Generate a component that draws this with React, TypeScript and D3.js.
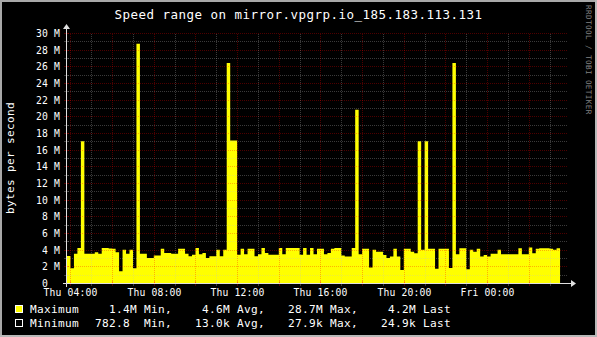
import React from "react";
import * as d3 from "d3";

const TITLE = "Speed range on mirror.vpgrp.io_185.183.113.131";
const Y_LABEL = "bytes per second";
const WATERMARK = "RRDTOOL / TOBI OETIKER";
const START_TIME = "2024-01-04T03:50:00"; // a Thursday
const STEP_MINUTES = 10;

// Maximum speed, in M bytes/s, one value per 10-minute step
const MAXIMUM = [
  3.25, 1.77, 3.5, 4.2, 17.0, 3.5, 3.5, 3.5, 3.7, 3.5,
  4.2, 4.2, 4.15, 4.1, 3.7, 1.4, 4.0, 3.5, 4.0, 1.77,
  28.7, 3.5, 3.5, 3.0, 3.0, 3.3, 3.3, 4.1, 3.6, 3.6,
  3.5, 3.5, 4.1, 4.1, 3.5, 3.2, 3.4, 4.2, 3.45, 3.6,
  3.0, 3.2, 3.2, 4.0, 3.2, 4.0, 26.4, 17.1, 17.1, 3.4,
  4.1, 3.45, 4.1, 4.1, 3.2, 3.45, 4.2, 3.6, 3.4, 3.4,
  3.4, 4.2, 3.45, 4.2, 4.2, 4.2, 4.2, 3.4, 4.2, 3.4,
  4.2, 3.45, 4.1, 4.1, 3.45, 3.6, 4.1, 4.2, 4.2, 3.3,
  3.17, 3.17, 4.2, 20.8, 3.45, 4.1, 4.1, 1.85, 4.0, 3.75,
  3.75, 3.37, 3.0, 3.17, 4.1, 3.17, 1.56, 4.1, 4.1, 3.75,
  3.58, 17.0, 4.0, 17.0, 4.1, 4.1, 1.7, 4.1, 4.1, 4.1,
  1.8, 26.4, 3.45, 4.18, 4.18, 1.65, 4.0, 3.75, 4.1, 3.17,
  3.37, 3.17, 3.5, 3.5, 4.0, 3.45, 3.45, 3.45, 3.45, 3.45,
  4.18, 3.45, 3.45, 4.25, 3.58, 4.1, 4.18, 4.18, 4.18, 4.1,
  4.0, 4.18,
];

const Y_TICKS = [0, 2, 4, 6, 8, 10, 12, 14, 16, 18, 20, 22, 24, 26, 28, 30];
const Y_UNIT = "M";
const LEGEND_NAMES = ["Maximum", "Minimum"];
const LEGEND_COLORS = ["#FFFF00", "#000000"];
const STAT_NAMES = ["Min,", "Avg,", "Max,", "Last"];
const MAX_STATS = ["1.4M", "4.6M", "28.7M", "4.2M"];
const MIN_STATS = ["782.8 ", "13.0k", "27.9k", "24.9k"];

const W = 597;
const H = 337;
const X0 = 67;
const PW = 500;
const Y0 = 283;
const PH = 250;
const FONT = "'DejaVu Sans Mono', monospace";

export default function App() {
  const start = new Date(START_TIME);
  const end = new Date(start.getTime() + 24 * 3600 * 1000);
  const x = d3.scaleTime().domain([start, end]).range([X0, X0 + PW]);
  const y = d3.scaleLinear().domain([0, 30]).range([Y0, Y0 - PH]);

  const pts = MAXIMUM.map((v, i) => ({
    t: new Date(start.getTime() + i * STEP_MINUTES * 60000),
    v,
  }));
  pts.push({
    t: new Date(start.getTime() + MAXIMUM.length * STEP_MINUTES * 60000),
    v: MAXIMUM[MAXIMUM.length - 1],
  });
  const area = d3
    .area<{ t: Date; v: number }>()
    .x((d) => x(d.t))
    .y0(y(0))
    .y1((d) => y(d.v))
    .curve(d3.curveStepAfter);

  const hours = d3.timeHour.range(start, end);
  const labelHours = d3.timeHour.every(4)!.range(start, end);
  const fmt = d3.timeFormat("%a %H:%M");
  const minorY = d3.range(1, 31);

  const RED = "rgba(255,0,0,0.3)";
  const GRAY = "rgba(192,192,192,0.3)";
  const AXIS = "#e0e0e0";

  const itemX = [88, 181, 274, 367];
  const statRows = [MAX_STATS, MIN_STATS];

  return (
    <div style={{ position: "absolute", left: 0, top: 0 }}>
      <svg width={W} height={H} style={{ display: "block" }}>
        <defs>
          <pattern id="hRed" width="2" height="1" patternUnits="userSpaceOnUse">
            <rect width="1" height="1" fill={RED} />
          </pattern>
          <pattern id="hGray" width="2" height="1" patternUnits="userSpaceOnUse">
            <rect width="1" height="1" fill={GRAY} />
          </pattern>
          <pattern id="vRed" width="1" height="2" patternUnits="userSpaceOnUse">
            <rect width="1" height="1" fill={RED} />
          </pattern>
          <pattern id="vGray" width="1" height="2" patternUnits="userSpaceOnUse">
            <rect width="1" height="1" fill={GRAY} />
          </pattern>
        </defs>
        <rect x={0} y={0} width={W} height={H} fill="#000" />
        {/* frame */}
        <rect x={0} y={0} width={W} height={2} fill="#a8a8a8" />
        <rect x={0} y={0} width={2} height={H} fill="#a8a8a8" />
        <rect x={0} y={H - 2} width={W} height={2} fill="#b8b8b8" />
        <rect x={W - 2} y={0} width={2} height={H} fill="#b8b8b8" />

        <text
          x={W / 2}
          y={18.5}
          fill="#fff"
          fontFamily={FONT}
          fontSize={12.5}
          letterSpacing={0.47}
          textAnchor="middle"
        >
          {TITLE}
        </text>

        <path d={area(pts) || ""} fill="#FFFF00" />

        {/* grid */}
        <g>
          {minorY.map((v) => {
            const yy = Math.round(y(v));
            return (
              <rect
                key={"h" + v}
                x={X0}
                y={yy}
                width={PW}
                height={1}
                fill={v % 2 === 0 ? "url(#hRed)" : "url(#hGray)"}
              />
            );
          })}
          {hours.map((h) => {
            const xx = Math.round(x(h));
            return (
              <rect
                key={"v" + h.getTime()}
                x={xx}
                y={Y0 - PH}
                width={1}
                height={PH}
                fill={h.getHours() % 2 === 0 ? "url(#vRed)" : "url(#vGray)"}
              />
            );
          })}
        </g>
        <g shapeRendering="crispEdges">
          {minorY.map((v) => {
            const yy = Math.round(y(v)) + 0.5;
            return (
              <line
                key={"th" + v}
                x1={X0 - 3}
                x2={X0 + 2}
                y1={yy}
                y2={yy}
                stroke={v % 2 === 0 ? RED : GRAY}
              />
            );
          })}
          {hours.map((h) => {
            const xx = Math.round(x(h)) + 0.5;
            return (
              <line
                key={"tv" + h.getTime()}
                x1={xx}
                x2={xx}
                y1={Y0 - 2}
                y2={Y0 + 3}
                stroke={h.getHours() % 2 === 0 ? RED : GRAY}
              />
            );
          })}
          {/* axes */}
          <line x1={X0 - 4} x2={X0 + PW + 5} y1={Y0 + 0.5} y2={Y0 + 0.5} stroke={AXIS} />
          <line x1={X0 - 0.5} x2={X0 - 0.5} y1={Y0 + 4} y2={Y0 - PH - 5} stroke={AXIS} />
        </g>
        <polygon
          points={`${X0 + PW + 4},${Y0 - 3} ${X0 + PW + 4},${Y0 + 4} ${X0 + PW + 9},${Y0 + 0.5}`}
          fill={AXIS}
        />
        <polygon
          points={`${X0 - 4},${Y0 - PH - 4} ${X0 + 3},${Y0 - PH - 4} ${X0 - 0.5},${Y0 - PH - 9}`}
          fill={AXIS}
        />

        {/* y tick labels */}
        {Y_TICKS.map((v) => (
          <text
            key={"yl" + v}
            x={v === 0 ? 48 : 60}
            y={Math.round(y(v)) + 4}
            fill="#fff"
            fontFamily={FONT}
            fontSize={9.72}
            letterSpacing={0.15}
            textAnchor="end"
          >
            {v === 0 ? "0" : `${v} ${Y_UNIT}`}
          </text>
        ))}
        {/* x tick labels */}
        {labelHours.map((h) => (
          <text
            key={"xl" + h.getTime()}
            x={Math.round(x(h)) + 0.5}
            y={296}
            fill="#fff"
            fontFamily={FONT}
            fontSize={9.72}
            letterSpacing={0.15}
            textAnchor="middle"
          >
            {fmt(h)}
          </text>
        ))}

        <text
          transform={`translate(13.5,${Y0 - PH / 2}) rotate(-90)`}
          fill="#fff"
          fontFamily={FONT}
          fontSize={11.1}
          letterSpacing={0.31}
          textAnchor="middle"
        >
          {Y_LABEL}
        </text>

        <text
          transform={`translate(586,5) rotate(90)`}
          fill="#808080"
          fontFamily={FONT}
          fontSize={7.6}
          letterSpacing={0.42}
        >
          {WATERMARK}
        </text>

        {/* legend */}
        {LEGEND_NAMES.map((name, r) => {
          const by = 305 + r * 14;
          return (
            <g key={name}>
              <rect
                x={15.5}
                y={by + 0.5}
                width={7}
                height={7}
                fill={LEGEND_COLORS[r]}
                stroke="#fff"
              />
              <text
                x={30}
                y={by + 8}
                fill="#fff"
                fontFamily={FONT}
                fontSize={11.1}
                letterSpacing={0.31}
                style={{ whiteSpace: "pre" }}
              >
                {name}
              </text>
              {statRows[r].map((s, k) => (
                <text
                  key={k}
                  x={itemX[k]}
                  y={by + 8}
                  fill="#fff"
                  fontFamily={FONT}
                  fontSize={11.1}
                  letterSpacing={0.31}
                  style={{ whiteSpace: "pre" }}
                >
                  {s.padStart(7, " ") + " " + STAT_NAMES[k]}
                </text>
              ))}
            </g>
          );
        })}
      </svg>
    </div>
  );
}
